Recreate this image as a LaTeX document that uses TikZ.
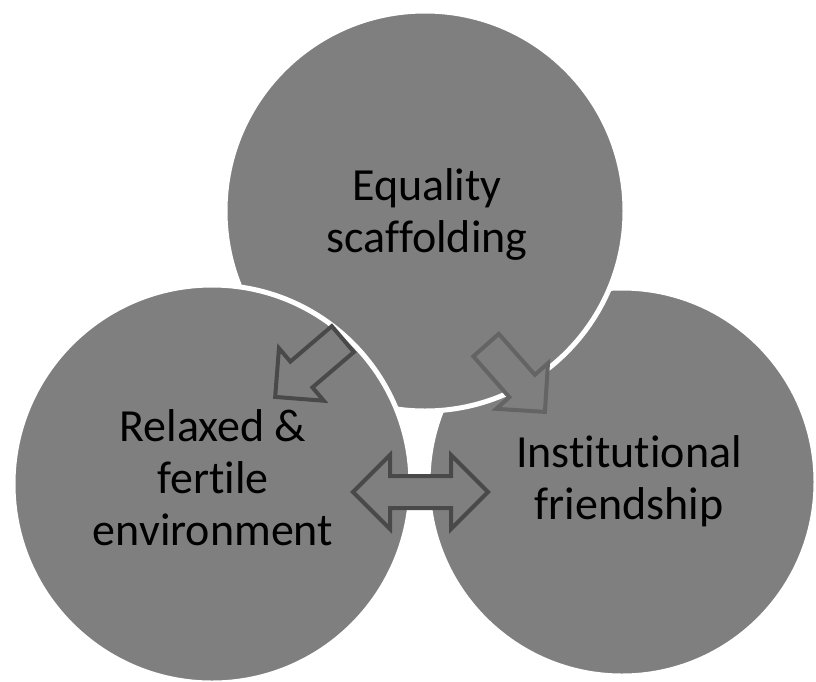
\documentclass[tikz,border=0pt]{standalone}
\usepackage{fontspec}
\setmainfont{Carlito}[Ligatures={NoCommon,NoRare,NoDiscretionary}]
\definecolor{circ}{HTML}{7F7F7F}
\definecolor{arrowdark}{HTML}{494949}
\definecolor{arrowlight}{HTML}{646464}
\begin{document}
\begin{tikzpicture}[x=1pt,y=-1pt,
  bubble/.style={circle, fill=circ, draw=white, line width=5pt, inner sep=0pt},
  lab/.style={font=\fontsize{46}{52}\selectfont, align=center, text=black, inner sep=0pt},
  blockarrow/.style={fill=circ, line width=4pt, line join=miter}]
\useasboundingbox (0,0) rectangle (816,681);
\clip (0,0) rectangle (816,681);
% circles (back to front)
\node[bubble, minimum size=388pt] (inst) at (622,482) {};
\node[bubble, minimum size=400pt] (equal) at (425,211) {};
\node[bubble, minimum size=398pt] (relax) at (212,484) {};
% labels
\node[lab] (t1) at (427,214) {Equality\\scaffolding};
\node[lab] (t2) at (213,478) {Relaxed \&\\fertile\\environment};
\node[lab] (t3) at (629,481) {Institutional\\friendship};
% block arrows
\draw[blockarrow, draw=arrowdark, shift={(309,368)}, rotate=220.5]
  (-44.5,-17) -- (10,-17) -- (10,-34.5) -- (44.5,0) -- (10,34.5) -- (10,17) -- (-44.5,17) -- cycle;
\draw[blockarrow, draw=arrowlight, shift={(515.5,378.5)}, rotate=-48.6]
  (-44.5,-17) -- (10,-17) -- (10,-34.5) -- (44.5,0) -- (10,34.5) -- (10,17) -- (-44.5,17) -- cycle;
\draw[blockarrow, draw=arrowdark, shift={(420.5,492)}]
  (-67.5,0) -- (-30.5,-37) -- (-30.5,-16) -- (30.5,-16) -- (30.5,-37) -- (67.5,0)
  -- (30.5,37) -- (30.5,16) -- (-30.5,16) -- (-30.5,37) -- cycle;
\end{tikzpicture}
\end{document}
